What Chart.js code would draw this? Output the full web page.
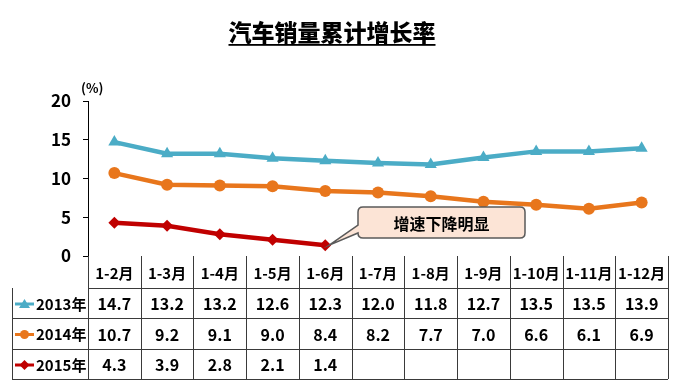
<!DOCTYPE html>
<html>
<head>
<meta charset="utf-8">
<script src="https://cdn.jsdelivr.net/npm/chart.js@4.4.0/dist/chart.umd.min.js"></script>
<style>
  html, body { margin: 0; padding: 0; background: #fff; }
  #wrap { width: 682px; height: 391px; position: relative; }
</style>
</head>
<body>
<div id="wrap"><canvas id="grafica" width="682" height="391"></canvas></div>
<script>
(function () {

    const meses = ['1-2月', '1-3月', '1-4月', '1-5月', '1-6月', '1-7月', '1-8月', '1-9月', '1-10月', '1-11月', '1-12月'];
    const ventas2013 = [14.7, 13.2, 13.2, 12.6, 12.3, 12.0, 11.8, 12.7, 13.5, 13.5, 13.9];
    const ventas2014 = [10.7, 9.2, 9.1, 9.0, 8.4, 8.2, 7.7, 7.0, 6.6, 6.1, 6.9];
    const ventas2015 = [4.3, 3.9, 2.8, 2.1, 1.4, null, null, null, null, null, null];
    const ticksY = [0, 5, 10, 15, 20];

    const titulo = '汽车销量累计增长率';
    const nota = '增速下降明显';
    const fuente = '"Noto Sans CJK SC", "Noto Sans", sans-serif';

    const series = [
        { label: '2013年', data: ventas2013, color: '#4BACC6', marker: 'triangle' },
        { label: '2014年', data: ventas2014, color: '#E8761C', marker: 'circle' },
        { label: '2015年', data: ventas2015, color: '#C00000', marker: 'rectRot' }
    ];

    function formato(v) {
        return v === null ? '' : v.toFixed(1);
    }

    // dibuja titulo, (%), la nota y la tabla de datos
    const extras = {
        id: 'extras',
        afterDraw(chart) {
            const ctx = chart.ctx;
            const x = chart.scales.x;
            const area = chart.chartArea;
            const ancho = x.getPixelForValue(1) - x.getPixelForValue(0);
            const izq = area.left;
            const der = area.right;
            const filas = [area.bottom, 288, 318, 349, 379];

            ctx.save();

            // titulo subrayado
            ctx.fillStyle = '#000';
            ctx.font = '900 23px ' + fuente;
            ctx.textAlign = 'center';
            ctx.textBaseline = 'alphabetic';
            ctx.fillText(titulo, 332, 41);
            const tw = ctx.measureText(titulo).width;
            ctx.fillRect(332 - tw / 2, 44, tw, 1.8);

            // unidad
            ctx.font = 'bold 13px ' + fuente;
            ctx.textAlign = 'left';
            ctx.fillText('(%)', 81, 93);

            // tabla
            ctx.strokeStyle = '#3a3a3a';
            ctx.lineWidth = 1;
            ctx.beginPath();
            for (let i = 1; i < filas.length; i++) {
                const xi = i === 1 ? izq : 12;
                ctx.moveTo(xi, filas[i] + 0.5);
                ctx.lineTo(der, filas[i] + 0.5);
            }
            for (let c = 0; c <= meses.length; c++) {
                const xc = Math.round(izq + c * ancho) + 0.5;
                ctx.moveTo(xc, filas[0]);
                ctx.lineTo(xc, filas[4]);
            }
            ctx.moveTo(12.5, filas[1]);
            ctx.lineTo(12.5, filas[4]);
            ctx.stroke();

            ctx.textAlign = 'center';
            ctx.textBaseline = 'middle';
            ctx.font = 'bold 15px ' + fuente;
            meses.forEach((m, i) => {
                ctx.fillText(m, x.getPixelForValue(i), (filas[0] + filas[1]) / 2 + 1);
            });

            ctx.font = 'bold 16px ' + fuente;
            series.forEach((s, r) => {
                const cy = (filas[r + 1] + filas[r + 2]) / 2 + 1;
                s.data.forEach((v, i) => {
                    ctx.fillText(formato(v), x.getPixelForValue(i), cy);
                });

                // clave de leyenda
                ctx.strokeStyle = s.color;
                ctx.fillStyle = s.color;
                ctx.lineWidth = 3;
                ctx.beginPath();
                ctx.moveTo(15, cy);
                ctx.lineTo(34, cy);
                ctx.stroke();
                ctx.beginPath();
                if (s.marker === 'triangle') {
                    ctx.moveTo(24.5, cy - 5);
                    ctx.lineTo(30, cy + 4);
                    ctx.lineTo(19, cy + 4);
                } else if (s.marker === 'circle') {
                    ctx.arc(24.5, cy, 4.5, 0, Math.PI * 2);
                } else {
                    ctx.moveTo(24.5, cy - 5);
                    ctx.lineTo(29.5, cy);
                    ctx.lineTo(24.5, cy + 5);
                    ctx.lineTo(19.5, cy);
                }
                ctx.closePath();
                ctx.fill();

                ctx.fillStyle = '#000';
                ctx.font = 'bold 15px ' + fuente;
                ctx.textAlign = 'left';
                ctx.fillText(s.label, 36, cy);
                ctx.textAlign = 'center';
                ctx.font = 'bold 16px ' + fuente;
            });

            // nota con flecha
            const px = x.getPixelForValue(4) + 4;
            const py = chart.scales.y.getPixelForValue(ventas2015[4]);
            const bx = 358, by = 207, bw = 167, bh = 31, rr = 5;
            ctx.fillStyle = '#FCE4D6';
            ctx.strokeStyle = '#5a5a5a';
            ctx.lineWidth = 1.5;
            ctx.beginPath();
            ctx.moveTo(bx + rr, by);
            ctx.lineTo(bx + bw - rr, by);
            ctx.quadraticCurveTo(bx + bw, by, bx + bw, by + rr);
            ctx.lineTo(bx + bw, by + bh - rr);
            ctx.quadraticCurveTo(bx + bw, by + bh, bx + bw - rr, by + bh);
            ctx.lineTo(bx + rr, by + bh);
            ctx.quadraticCurveTo(bx, by + bh, bx, by + bh - rr);
            ctx.lineTo(bx, by + 26);
            ctx.lineTo(px, py);
            ctx.lineTo(bx, by + 18);
            ctx.lineTo(bx, by + rr);
            ctx.quadraticCurveTo(bx, by, bx + rr, by);
            ctx.closePath();
            ctx.fill();
            ctx.stroke();
            ctx.fillStyle = '#000';
            ctx.font = 'bold 16px ' + fuente;
            ctx.fillText(nota, bx + bw / 2, by + bh / 2 + 1);

            ctx.restore();
        }
    };

    const ctx = document.getElementById('grafica').getContext('2d');

    new Chart(ctx, {
        type: 'line',
        data: {
            labels: meses,
            datasets: series.map(s => ({
                label: s.label,
                data: s.data,
                borderColor: s.color,
                backgroundColor: s.color,
                borderWidth: 4.5,
                pointStyle: s.marker,
                pointRadius: s.marker === 'triangle' ? 7 : 6,
                pointBorderWidth: 0,
                spanGaps: false,
                tension: 0
            }))
        },
        options: {
            responsive: false,
            animation: false,
            layout: {
                padding: { left: 0, right: 14, top: 101, bottom: 135 }
            },
            scales: {
                x: {
                    display: false,
                    offset: true
                },
                y: {
                    min: 0,
                    max: 20,
                    afterFit(scale) { scale.width = 88; },
                    afterBuildTicks(scale) { scale.ticks = ticksY.map(v => ({ value: v })); },
                    ticks: {
                        color: '#000',
                        padding: 12,
                        font: { family: fuente, size: 17, weight: 'bold' }
                    },
                    grid: {
                        drawOnChartArea: false,
                        tickLength: 5,
                        color: '#000'
                    },
                    border: { color: '#000', width: 1 }
                }
            },
            plugins: {
                legend: { display: false },
                tooltip: { enabled: false }
            }
        },
        plugins: [extras]
    });

})();
</script>
</body>
</html>
